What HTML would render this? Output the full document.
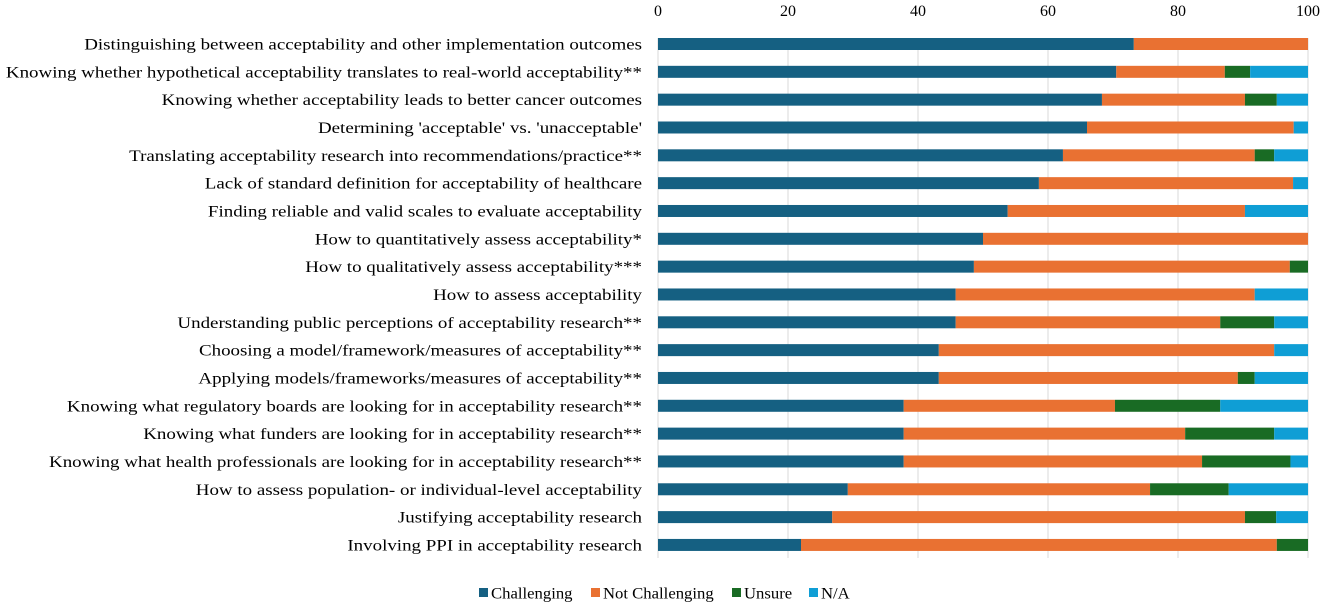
<!DOCTYPE html>
<html><head><meta charset="utf-8"><style>
body{margin:0;background:#fff;width:1325px;height:607px;overflow:hidden;font-family:"Liberation Serif",serif}
</style></head><body>
<svg id="chart" width="1325" height="607" xmlns="http://www.w3.org/2000/svg" font-family="Liberation Serif, serif"></svg>
<script>
const categories=["Distinguishing between acceptability and other implementation outcomes","Knowing whether hypothetical acceptability translates to real-world acceptability**","Knowing whether acceptability leads to better cancer outcomes","Determining 'acceptable' vs. 'unacceptable'","Translating acceptability research into recommendations/practice**","Lack of standard definition for acceptability of healthcare","Finding reliable and valid scales to evaluate acceptability","How to quantitatively assess acceptability*","How to qualitatively assess acceptability***","How to assess acceptability","Understanding public perceptions of acceptability research**","Choosing a model/framework/measures of acceptability**","Applying models/frameworks/measures of acceptability**","Knowing what regulatory boards are looking for in acceptability research**","Knowing what funders are looking for in acceptability research**","Knowing what health professionals are looking for in acceptability research**","How to assess population- or individual-level acceptability","Justifying acceptability research","Involving PPI in acceptability research"];
const challenging=[73.2,70.5,68.3,66.0,62.3,58.6,53.8,50.0,48.6,45.8,45.8,43.2,43.2,37.8,37.8,37.8,29.2,26.8,22.0];
const notChallenging=[26.8,16.7,22.0,31.8,29.5,39.1,36.5,50.0,48.6,46.0,40.7,51.6,46.0,32.5,43.3,45.9,46.5,63.5,73.2];
const unsure=[0,3.9,4.9,0,3.0,0,0,0,2.8,0,8.3,0,2.6,16.2,13.7,13.6,12.1,4.8,4.8];
const na=[0,8.9,4.8,2.2,5.2,2.3,9.7,0,0,8.2,5.2,5.2,8.2,13.5,5.2,2.7,12.2,4.9,0];
const ticks=[0,20,40,60,80,100];
const seriesNames=["Challenging","Not Challenging","Unsure","N/A"];
const colors=["#156082","#E97132","#196B24","#0F9ED5"];
const svg=document.getElementById('chart');const NS="http://www.w3.org/2000/svg";
const x0=658,x1=1308,yTop=44,step=27.83,bh=12;
const xs=v=>x0+(x1-x0)*v/100;const ys=i=>yTop+i*step;
function mk(t,a,p){const e=document.createElementNS(NS,t);for(const k in a)e.setAttribute(k,a[k]);(p||svg).appendChild(e);return e;}
ticks.forEach(t=>{const g=mk('line',{x1:xs(t),x2:xs(t),y1:38,y2:558,stroke:'#d9d9d9','stroke-width':1});


const l=mk('text',{x:xs(t),y:16,'text-anchor':'middle','font-size':16,fill:'#000'});l.textContent=t;

});
const lg=mk('g',{transform:'translate(642,0) scale(1.17,1) translate(-642,0)'});


const series=[challenging,notChallenging,unsure,na];
categories.forEach((c,i)=>{const y=ys(i);
const t=mk('text',{x:642,y:y+5.5,'text-anchor':'end','font-size':16.2,fill:'#000'},lg);t.textContent=c;


let acc=0;series.forEach((s,k)=>{const v=s[i];if(v>0){const r=mk('rect',{x:xs(acc),y:y-bh/2,width:xs(acc+v)-xs(acc),height:bh,fill:colors[k]});

}acc+=v;});});
const lx=[479,591,732,809];
seriesNames.forEach((n,k)=>{const r=mk('rect',{x:lx[k],y:588,width:9,height:9,fill:colors[k]});


const tx=lx[k]+12;
const t=mk('text',{x:tx,y:598.5,'font-size':16.2,fill:'#000',transform:`translate(${tx},0) scale(1.03,1) translate(${-tx},0)`});t.textContent=n;

});
</script>
</body></html>
